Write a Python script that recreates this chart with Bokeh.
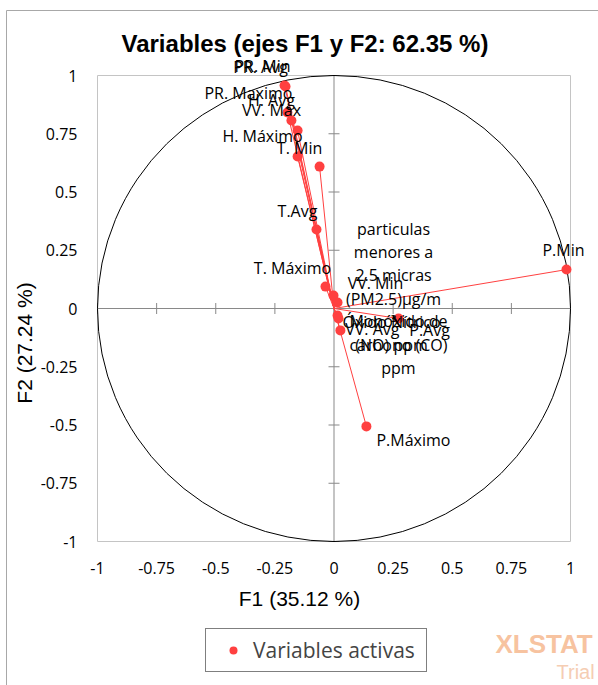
import math
from bokeh.plotting import figure
from bokeh.models import Range1d, FixedTicker, Legend, LegendItem, Label
from bokeh.core.properties import value
from bokeh.embed import file_html
from bokeh.resources import INLINE

TITLE = "Variables (ejes F1 y F2: 62.35 %)"
X_TITLE = "F1 (35.12 %)"
Y_TITLE = "F2 (27.24 %)"
LEGEND_LABEL = "Variables activas"

variables = ["PR. Avg", "PR. Min", "PR. Maximo", "H. Avg", "VV. Max", "H. Máximo",
             "T. Min", "T.Avg", "T. Máximo", "VV. Min",
             "particulas menores a 2.5 micras (PM2.5)µg/m³",
             "Óxido Nítrico (NO) ppm", "Monóxido de carbono (CO) ppm",
             "VV. Avg", "P.Avg", "P.Min", "P.Máximo"]
label_text = ["PR. Avg", "PR. Min", "PR. Maximo", "H. Avg", "VV. Max", "H. Máximo",
              "T. Min", "T.Avg", "T. Máximo", "VV. Min",
              "particulas\nmenores a\n2.5 micras\n(PM2.5)µg/m\n³",
              "Óxido Nítrico\n(NO) ppm", "Monóxido de\ncarbono (CO)\nppm",
              "VV. Avg", "P.Avg", "P.Min", "P.Máximo"]
F1 = [-0.209, -0.205, -0.197, -0.180, -0.154, -0.154, -0.061, -0.074, -0.036, -0.002,
      0.015, 0.015, 0.019, 0.027, 0.273, 0.983, 0.137]
F2 = [0.957, 0.953, 0.841, 0.807, 0.764, 0.652, 0.609, 0.339, 0.094, 0.056,
      0.026, -0.030, -0.043, -0.094, -0.043, 0.167, -0.506]

# label placement offsets (pixels) relative to each point
label_dx = [-24, -23, -39, -20, -26, -35, -20, -19, -33, 42, 56, 54, 60, 32, 31, -3, 47]
label_dy = [-19, -20, -20, -20, -20, -21, -19, -19, -19, -12, -27, 18, 26, -1, 11, -20, 14]

ticks = [-1, -0.75, -0.5, -0.25, 0, 0.25, 0.5, 0.75, 1]
tick_labels = ["-1", "-0.75", "-0.5", "-0.25", "0", "0.25", "0.5", "0.75", "1"]

RED = "#FF4040"
AXIS_GREY = "#898989"
BOX_GREY = "#c4c4c4"
BORDER_GREY = "#a8a8a8"
LO, HI = ticks[0], ticks[-1]

# layout (pixels): the plotting square [-1, 1]^2 sits inside a frame that covers the
# whole canvas, so the title, axes, legend and labels around it are never clipped
W, H = 598, 685
PX_X, PX_Y = 473 / 2, 466 / 2          # pixels per unit
LEFT, BOTTOM = 97, 144                  # canvas pixels left of / below the square
x0 = LO - LEFT / PX_X
y0 = LO - BOTTOM / PX_Y


def px_x(px):
    return x0 + px / PX_X


def px_y(py):
    return y0 + (H - py) / PX_Y


p = figure(frame_width=W, frame_height=H, min_border=0,
           x_range=Range1d(x0, x0 + W / PX_X), y_range=Range1d(y0, y0 + H / PX_Y),
           output_backend="svg", toolbar_location=None)
p.grid.visible = False
p.outline_line_color = None
p.background_fill_color = "white"

for ax in (p.xaxis, p.yaxis):
    ax.fixed_location = LO
    ax.ticker = FixedTicker(ticks=ticks)
    ax.major_label_overrides = dict(zip(ticks, tick_labels))
    ax.axis_line_color = None
    ax.major_tick_line_color = None
    ax.minor_tick_line_color = None
    ax.major_label_text_font = "Open Sans"
    ax.major_label_text_font_size = "16px"
    ax.major_label_text_color = "black"
    ax.major_label_standoff = 14
    ax.axis_label_text_font = "Liberation Sans"
    ax.axis_label_text_font_size = "21px"
    ax.axis_label_text_font_style = "normal"
    ax.axis_label_text_color = "black"
p.xaxis.axis_label = X_TITLE
p.yaxis.axis_label = Y_TITLE
p.xaxis.axis_label_standoff = 10
p.yaxis.axis_label_standoff = 2

# chart-area border (left and top edges)
p.segment(x0=[px_x(6), px_x(6)], y0=[px_y(10), px_y(10)], x1=[px_x(6), px_x(W)],
          y1=[px_y(H), px_y(10)], line_color=BORDER_GREY, line_width=1)

# title
p.add_layout(Label(x=121, y=H - 43, x_units="screen", y_units="screen", text=TITLE,
                   text_font="Liberation Sans", text_font_style="bold", text_font_size="24px",
                   text_color="black", text_baseline="middle"))

# plot-area box
p.quad(left=LO, right=HI, bottom=LO, top=HI, fill_color=None, line_color=BOX_GREY, line_width=1)

# central axes with cross ticks
p.segment(x0=[LO, 0], y0=[0, LO], x1=[HI, 0], y1=[0, HI], line_color=AXIS_GREY, line_width=1)
zeros = [0] * len(ticks)
p.scatter(x=zeros, y=ticks, marker="dash", size=11, angle=0, line_color=AXIS_GREY)
p.scatter(x=ticks, y=zeros, marker="dash", size=11, angle=math.pi / 2, line_color=AXIS_GREY)

# correlation circle
p.ellipse(x=0, y=0, width=2, height=2, fill_color=None, line_color="black", line_width=1)

# vectors
p.segment(x0=[0] * len(F1), y0=[0] * len(F1), x1=F1, y1=F2, line_color=RED, line_width=1)
dots = p.scatter(x=F1, y=F2, size=10, fill_color=RED, line_color=None)

p.text(x=F1, y=F2, text=label_text, x_offset=label_dx, y_offset=label_dy,
       text_align="center", text_baseline="middle", text_font=value("Open Sans"),
       text_font_size="16px", text_color="black", text_line_height=1.05)

legend = Legend(items=[LegendItem(label=LEGEND_LABEL, renderers=[dots])],
                location=(205, H - 672), border_line_color="black", border_line_width=1,
                padding=7, glyph_width=40, label_standoff=0, label_width=166, margin=0,
                label_text_font="Open Sans", label_text_font_size="21px",
                background_fill_alpha=1)
p.add_layout(legend)

# watermark
p.add_layout(Label(x=495, y=H - 658, x_units="screen", y_units="screen", text="XLSTAT",
                   text_font="Liberation Sans", text_font_style="bold", text_font_size="26px",
                   text_color="#F7C3A0", text_baseline="bottom"))
p.add_layout(Label(x=556, y=H - 682, x_units="screen", y_units="screen", text="Trial",
                   text_font="Liberation Sans", text_font_size="20px",
                   text_color="#F5CDB3", text_baseline="bottom"))

open("out.html", "w").write(file_html(p, INLINE))
